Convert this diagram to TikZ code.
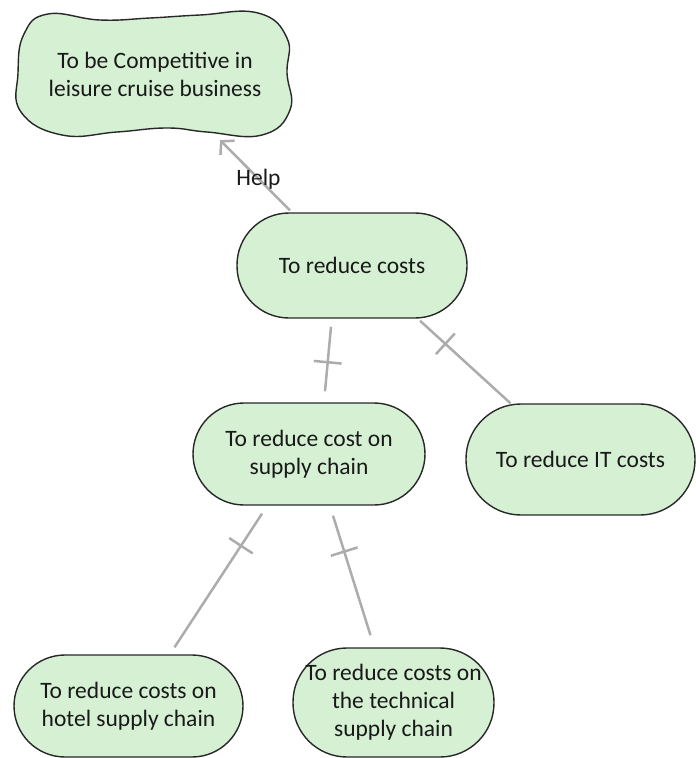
\documentclass[tikz,border=0pt]{standalone}
\usepackage{fontspec}
\setmainfont{Carlito}
\usetikzlibrary{calc,arrows.meta}
\definecolor{nodefill}{RGB}{213,240,211}
\definecolor{nodeline}{RGB}{40,40,40}
\definecolor{conngray}{RGB}{172,172,172}
\definecolor{txt}{RGB}{25,25,25}
\begin{document}
\begin{tikzpicture}[x=1pt,y=-1pt,
  every node/.style={font=\fontsize{23.5}{28}\selectfont, text=txt},
  goalbox/.style={draw=nodeline, fill=nodefill, line width=1.4pt, rectangle, rounded corners=#1, align=center, inner sep=0pt},
  conn/.style={draw=conngray, line width=2.5pt},
  tickmark/.style={sloped, draw=conngray, line width=2.5pt, rectangle, inner sep=0pt, minimum width=0pt, minimum height=28pt}
]
\useasboundingbox (0,0) rectangle (696,758);
% cloud goal
\draw[draw=nodeline, fill=nodefill, line width=1.4pt] plot[smooth cycle, tension=0.75] coordinates {
  (48,14) (100,20) (150,18) (200,15) (258,13)
  (287,38) (287,73) (290,110)
  (262,135) (207,132) (167,128) (117,132) (62,135)
  (21,112) (18,73) (24,34)};
\node[align=center, minimum width=270pt, minimum height=118pt, inner sep=0pt] (goal) at (155,74) {To be Competitive in\\leisure cruise business};
% nodes
\node[goalbox=52pt, minimum width=230pt, minimum height=105pt] (cost) at (352,265.5) {To reduce costs};
\node[goalbox=51pt, minimum width=232pt, minimum height=102pt] (supply) at (309,454) {To reduce cost on\\supply chain};
\node[goalbox=55pt, minimum width=229pt, minimum height=111pt] (it) at (580.5,459.5) {To reduce IT costs};
\node[goalbox=51pt, minimum width=229pt, minimum height=102pt] (hotel) at (128.5,706) {To reduce costs on\\hotel supply chain};
\node[goalbox=54pt, minimum width=201pt, minimum height=109pt] (tech) at (393.5,702.5) {To reduce costs on\\the technical\\supply chain};
% connectors
\draw[conn, -{Straight Barb[length=9pt,width=20pt,line width=2.5pt]}] ($(cost.north)+(-62,-2)$) -- ($(goal.south)+(65,7)$)
  node[pos=0.45, inner sep=0pt] (helplbl) {Help};
\draw[conn] ($(cost.south)+(-21,8)$) -- ($(supply.north)+(16,-11)$) node[tickmark, pos=0.55] (t1) {};
\draw[conn] ($(cost.south)+(68,2)$) -- ($(it.north)+(-70,0)$) node[tickmark, pos=0.28] (t2) {};
\draw[conn] ($(supply.south)+(-47,8)$) -- ($(hotel.north)+(46,-7)$) node[tickmark, pos=0.24] (t3) {};
\draw[conn] ($(supply.south)+(24,10)$) -- ($(tech.north)+(-23,-12)$) node[tickmark, pos=0.3] (t4) {};
\end{tikzpicture}
\end{document}
